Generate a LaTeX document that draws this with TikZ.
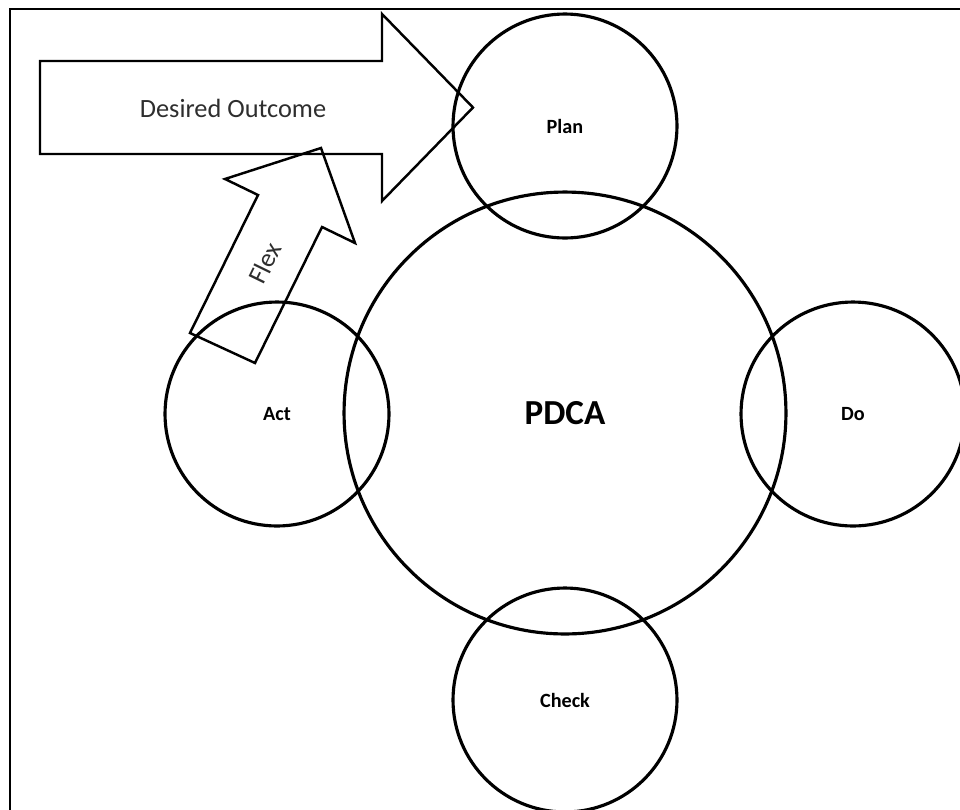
\documentclass[tikz,border=0pt]{standalone}
\usepackage{fontspec}
\setmainfont{Carlito}

\begin{document}
\begin{tikzpicture}[x=0.02cm, y=-0.02cm,
    phase/.style={circle, draw, line width=1.8pt, inner sep=0pt, minimum size=4.48cm, font=\fontsize{11.5}{13}\selectfont\bfseries},
    blockarrow/.style={draw, line width=1.4pt, line join=miter},
    arrowtext/.style={font=\fontsize{15}{18}\selectfont, text=black!82}]
    \useasboundingbox (0,0) rectangle (960,809);

    % Outer frame (runs off the right and bottom edges)
    \draw[line width=1.5pt] (10,9) rectangle (990,840);

    % Centre circle and the four phases
    \node[circle, draw, line width=1.8pt, inner sep=0pt, minimum size=8.84cm, font=\fontsize{20}{24}\selectfont\bfseries] (pdca) at (565,413) {PDCA};
    \node[phase] (plan) at (565,126) {Plan};
    \node[phase] (do) at (853,414) {Do};
    \node[phase] (check) at (565,700) {Check};
    \node[phase] (act) at (277,414) {Act};

    % Desired outcome arrow
    \draw[blockarrow] (40,61) -- (382,61) -- (382,14) -- (473,107.5) -- (382,201) -- (382,154) -- (40,154) -- cycle;
    \node[arrowtext] (goal) at (233,108) {Desired Outcome};

    % Flex arrow
    \draw[blockarrow] (190,333) -- (258,195) -- (225,179) -- (321,148) -- (355,243) -- (322,227) -- (255,363) -- cycle;
    \node[arrowtext, rotate=64] (flex) at (265,263) {Flex};
\end{tikzpicture}
\end{document}
